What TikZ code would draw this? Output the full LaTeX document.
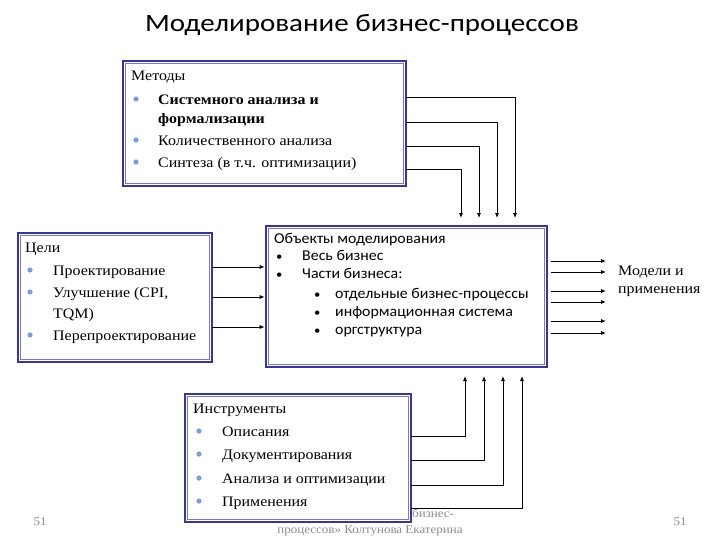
\documentclass[tikz,border=0pt]{standalone}
\usepackage{fontspec}
\setmainfont[FakeStretch=1.1]{Liberation Serif}
\newfontfamily\calfont[FakeStretch=1.06]{Carlito}
\newfontfamily\titlefont[FakeStretch=1.16]{Carlito}
\usetikzlibrary{arrows.meta}
\definecolor{boxblue}{RGB}{55,55,145}
\definecolor{boxin}{RGB}{120,120,195}
\definecolor{bulc}{RGB}{125,155,215}
\definecolor{footc}{RGB}{140,140,140}
\begin{document}
\begin{tikzpicture}[x=1pt,y=-1pt,
 box/.style={draw=boxblue, line width=2.6pt, fill=white, inner sep=0pt, outer sep=0pt, anchor=north west},
 innerline/.style={draw=boxin, line width=0.7pt},
 txt/.style={anchor=base west, inner sep=0pt, font=\fontsize{14.5}{17}\selectfont},
 btxt/.style={txt, font=\bfseries\fontsize{14.5}{17}\selectfont},
 ctxt/.style={anchor=base west, inner sep=0pt, font=\calfont\fontsize{15}{18}\selectfont},
 cbul/.style={anchor=base west, inner sep=0pt, font=\calfont\fontsize{12}{14}\selectfont},
 foottxt/.style={inner sep=0pt, text=footc, font=\fontsize{11.8}{14}\selectfont},
 arr/.style={-{Latex[length=5pt,width=4pt]}, line width=0.8pt},
 dotc/.style={fill=bulc}]
\useasboundingbox (0,0) rectangle (728,546);

% title
\node[font=\titlefont\fontsize{25}{30}\selectfont, anchor=base, inner sep=0pt] (title) at (362,31) {Моделирование бизнес-процессов};

% footer
\node[foottxt, anchor=base] (pl) at (40,525) {51};
\node[foottxt, anchor=base] (pr) at (680,525) {51};
\node[foottxt, anchor=base west] (f1) at (412,517) {бизнес-};
\node[foottxt, anchor=base] (f2) at (370,533) {процессов» Колтунова Екатерина};

% boxes
\node[box, minimum width=283pt, minimum height=125pt] (m) at (123,61) {};
\node[box, minimum width=194pt, minimum height=129pt] (g) at (18,233) {};
\node[box, minimum width=281pt, minimum height=141pt] (o) at (266,226) {};
\node[box, minimum width=226pt, minimum height=128pt] (i) at (185,394) {};
\foreach \b in {m,g,o,i}{
  \draw[innerline] ([xshift=2.5pt,yshift=-2.5pt]\b.north west) rectangle ([xshift=-2.5pt,yshift=2.5pt]\b.south east);
}

% Methods
\node[txt] (m0) at (131,80) {Методы};
\node[btxt] (m1) at (158,104) {Системного анализа и};
\node[btxt] (m1b) at (158,123) {формализации};
\node[txt] (m2) at (158,145) {Количественного анализа};
\node[txt] (m3) at (158,167) {Синтеза (в т.ч. оптимизации)};
\foreach \y in {104,145,167}{ \fill[dotc] (136,\y-5) circle (2.6pt); }

% Goals
\node[txt] (g0) at (25,252) {Цели};
\node[txt] (g1) at (53,275) {Проектирование};
\node[txt] (g2) at (53,297) {Улучшение (CPI,};
\node[txt] (g2b) at (53,318) {TQM)};
\node[txt] (g3) at (53,340) {Перепроектирование};
\foreach \y in {275,297,340}{ \fill[dotc] (30,\y-5) circle (2.6pt); }

% Objects
\node[ctxt] (o0) at (274,243) {Объекты моделирования};
\node[cbul] (ob1) at (276,260) {•};
\node[ctxt] (o1) at (302,260) {Весь бизнес};
\node[cbul] (ob2) at (276,278) {•};
\node[ctxt] (o2) at (302,278) {Части бизнеса:};
\node[cbul] (ob3) at (314,298) {•};
\node[ctxt] (o3) at (335,298) {отдельные бизнес-процессы};
\node[cbul] (ob4) at (314,316) {•};
\node[ctxt] (o4) at (335,316) {информационная система};
\node[cbul] (ob5) at (314,334) {•};
\node[ctxt] (o5) at (335,334) {оргструктура};

% Instruments
\node[txt] (i0) at (193,413) {Инструменты};
\node[txt] (i1) at (222,436) {Описания};
\node[txt] (i2) at (222,459) {Документирования};
\node[txt] (i3) at (222,483) {Анализа и оптимизации};
\node[txt] (i4) at (222,506) {Применения};
\foreach \y in {436,459,483,506}{ \fill[dotc] (199,\y-5) circle (2.6pt); }

% Outputs text
\node[txt] (r1) at (618,275) {Модели и};
\node[txt] (r2) at (618,293) {применения};

% connectors from methods
\foreach \y/\x in {97/515,122/497,146/479,169/461}{
  \draw[arr, shorten >=8pt] (m.east|-{(0,\y)}) -| (o.north-|{(\x,0)});
}
% from goals
\foreach \y in {267,297,327}{
  \draw[arr, shorten >=1.3pt] (g.east|-{(0,\y)}) -- (o.west|-{(0,\y)});
}
% from instruments
\foreach \y/\x in {436/465,460/484,485/503,508/522}{
  \draw[arr, shorten >=9pt] (i.east|-{(0,\y)}) -| (o.south-|{(\x,0)});
}
% outputs
\foreach \y [count=\k] in {261,272,291,302,321,333}{
  \coordinate (out\k) at (606,\y);
  \draw[arr, shorten <=4pt] (o.east|-out\k) -- (out\k);
}
\end{tikzpicture}
\end{document}
